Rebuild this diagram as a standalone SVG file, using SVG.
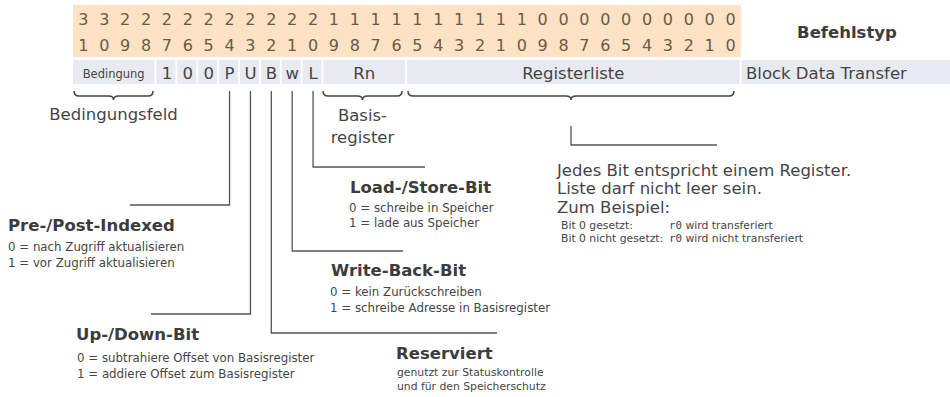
<svg xmlns="http://www.w3.org/2000/svg" width="950" height="397" viewBox="0 0 950 397">
<style>
text{font-family:"DejaVu Sans","Noto Sans",sans-serif;fill:#454545}
.dig{font-size:16px;fill:#6a5a48;text-anchor:middle}
.cell{fill:#e8eaf1}
.cl{font-size:16.5px;text-anchor:middle}
.hd{font-size:16.5px;font-weight:bold;fill:#3c3c3c}
.sm{font-size:11.8px}
.xs{font-size:10.8px}
.big{font-size:16.5px}
.mono{font-family:"DejaVu Sans Mono","Liberation Mono",monospace}
.ln{fill:none;stroke:#555;stroke-width:1.3}
.br{fill:none;stroke:#444;stroke-width:1.5}
</style>
<rect width="950" height="397" fill="#fff"/>
<g id="bitnumbers">
<rect x="73" y="5" width="668" height="52" fill="#fde2c4"/>
<text class="dig" y="25" x="83.44 104.31 125.19 146.06 166.94 187.81 208.69 229.56 250.44 271.31 292.19 313.06 333.94 354.81 375.69 396.56 417.44 438.31 459.19 480.06 500.94 521.81 542.69 563.56 584.44 605.31 626.19 647.06 667.94 688.81 709.69 730.56">33222222222211111111110000000000</text>
<text class="dig" y="51" x="83.44 104.31 125.19 146.06 166.94 187.81 208.69 229.56 250.44 271.31 292.19 313.06 333.94 354.81 375.69 396.56 417.44 438.31 459.19 480.06 500.94 521.81 542.69 563.56 584.44 605.31 626.19 647.06 667.94 688.81 709.69 730.56">10987654321098765432109876543210</text>
</g>
<text class="hd" x="847" y="38" text-anchor="middle">Befehlstyp</text>
<g id="fields">
<rect class="cell" x="73" y="60" width="81.5" height="24"/>
<text x="113.7" y="78" font-size="11.5" text-anchor="middle">Bedingung</text>
<rect class="cell" x="156.5" y="60" width="18.9" height="24"/>
<rect class="cell" x="177.4" y="60" width="18.9" height="24"/>
<rect class="cell" x="198.3" y="60" width="18.9" height="24"/>
<rect class="cell" x="219.1" y="60" width="18.9" height="24"/>
<rect class="cell" x="240" y="60" width="18.9" height="24"/>
<rect class="cell" x="260.9" y="60" width="18.9" height="24"/>
<rect class="cell" x="281.8" y="60" width="18.9" height="24"/>
<rect class="cell" x="302.6" y="60" width="18.9" height="24"/>
<text class="cl" y="79" x="166.94 187.81 208.69 229.56 250.44 271.31 292.19 313.06">100PUBwL</text>
<rect class="cell" x="323.5" y="60" width="81.5" height="24"/>
<text class="cl" x="364.3" y="79">Rn</text>
<rect class="cell" x="407" y="60" width="332.5" height="24"/>
<text class="cl" x="573.3" y="79">Registerliste</text>
<rect class="cell" x="741.5" y="60" width="208.5" height="24"/>
<text class="big" x="746" y="79">Block Data Transfer</text>
</g>
<g id="braces">
<path class="br" d="M74,91 q0,5 5,5 H108.5 q5,0 5,4 q0,-4 5,-4 H148 q5,0 5,-5"/>
<path class="br" d="M323,91 q0,5 5,5 H357.5 q5,0 5,4 q0,-4 5,-4 H397 q5,0 5,-5"/>
<path class="br" d="M408,91 q0,5 5,5 H566 q5,0 5,4 q0,-4 5,-4 H729 q5,0 5,-5"/>
</g>
<g id="connectors">
<path class="ln" d="M229.56,91 V205 H130"/>
<path class="ln" d="M250.44,91 V314 H151"/>
<path class="ln" d="M271.31,91 V333 H497"/>
<path class="ln" d="M292.19,91 V251 H403"/>
<path class="ln" d="M313.06,91 V167 H425"/>
<path class="ln" d="M571,126 V145 H717"/>
</g>
<g id="bedingungsfeld">
<text class="big" x="113.5" y="120" text-anchor="middle">Bedingungsfeld</text>
</g>
<g id="basisregister">
<text class="big" x="362.5" y="121" text-anchor="middle">Basis-</text>
<text class="big" x="362.5" y="143" text-anchor="middle">register</text>
</g>
<g id="registerliste">
<text class="big" x="557" y="176">Jedes Bit entspricht einem Register.</text>
<text class="big" x="557" y="194">Liste darf nicht leer sein.</text>
<text class="big" x="557" y="213">Zum Beispiel:</text>
<text class="xs" x="561" y="229" font-size="11">Bit 0 gesetzt:<tspan x="669" class="mono">r0</tspan> wird transferiert</text>
<text class="xs" x="561" y="242" font-size="11">Bit 0 nicht gesetzt:<tspan x="669" class="mono">r0</tspan> wird nicht transferiert</text>
</g>
<g id="load-store">
<text class="hd" x="350" y="193">Load-/Store-Bit</text>
<text class="sm" x="349" y="212">0 = schreibe in Speicher</text>
<text class="sm" x="349" y="227">1 = lade aus Speicher</text>
</g>
<g id="pre-post">
<text class="hd" x="8" y="231">Pre-/Post-Indexed</text>
<text class="sm" x="8" y="251">0 = nach Zugriff aktualisieren</text>
<text class="sm" x="8" y="267">1 = vor Zugriff aktualisieren</text>
</g>
<g id="write-back">
<text class="hd" x="331" y="276">Write-Back-Bit</text>
<text class="sm" x="330" y="296">0 = kein Zurückschreiben</text>
<text class="sm" x="330" y="312">1 = schreibe Adresse in Basisregister</text>
</g>
<g id="up-down">
<text class="hd" x="76" y="340">Up-/Down-Bit</text>
<text class="sm" x="77" y="362">0 = subtrahiere Offset von Basisregister</text>
<text class="sm" x="77" y="378">1 = addiere Offset zum Basisregister</text>
</g>
<g id="reserviert">
<text class="hd" x="396" y="359">Reserviert</text>
<text class="xs" x="397" y="376">genutzt zur Statuskontrolle</text>
<text class="xs" x="397" y="390">und für den Speicherschutz</text>
</g>
</svg>
